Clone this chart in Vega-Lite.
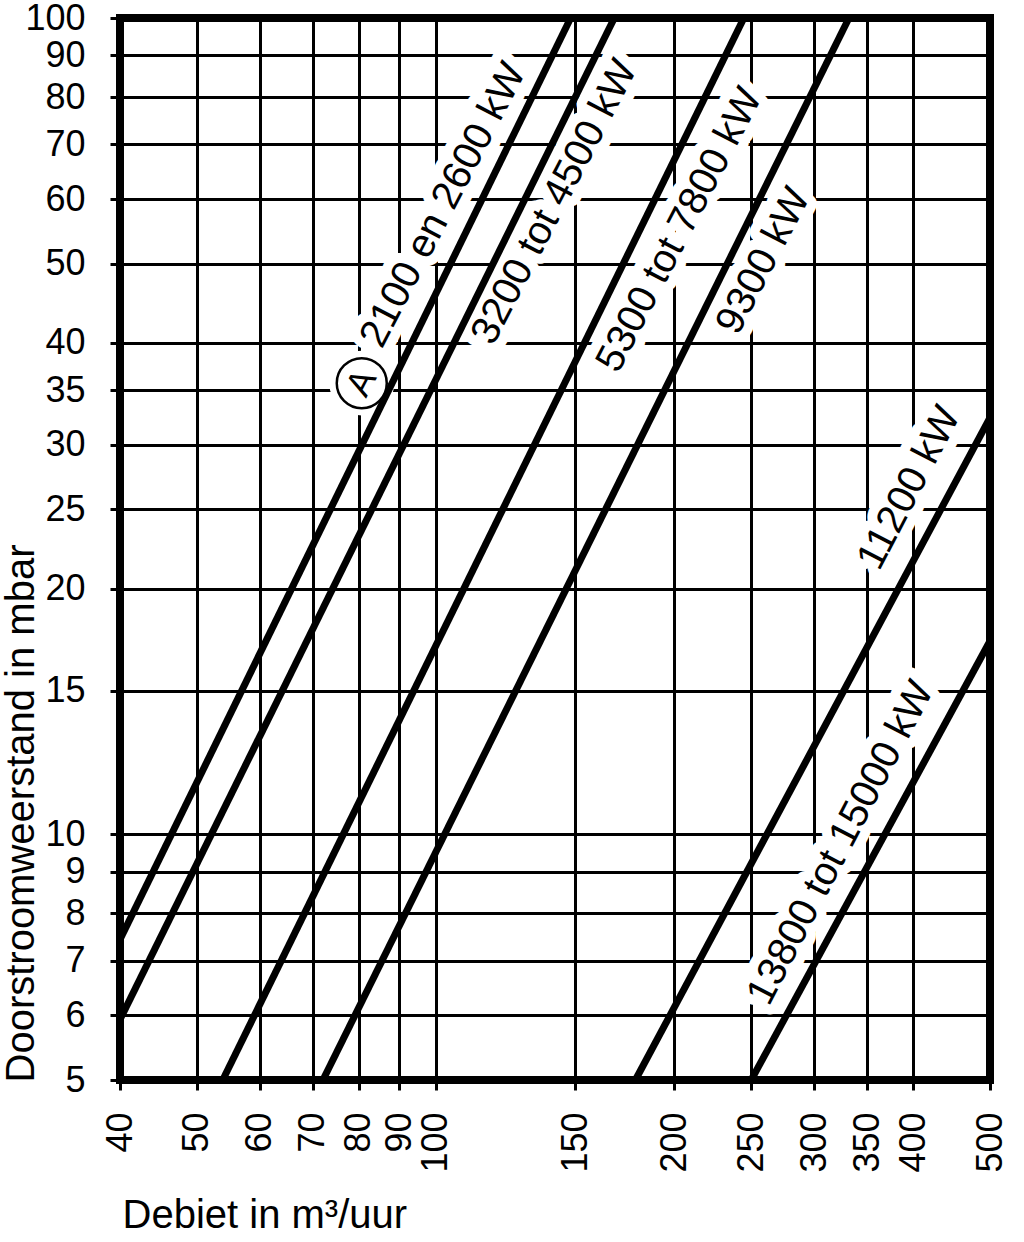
{
  "$schema": "https://vega.github.io/schema/vega-lite/v6.json",
  "width": 870,
  "height": 1062,
  "autosize": {"type": "none"},
  "padding": {"left": 120, "top": 18, "right": 34, "bottom": 162},
  "background": "white",
  "config": {
    "font": "Liberation Sans",
    "view": {"stroke": "black", "strokeWidth": 8},
    "axis": {
      "domain": false,
      "grid": true,
      "gridColor": "black",
      "gridWidth": 3,
      "gridOpacity": 1,
      "ticks": true,
      "tickColor": "black",
      "tickWidth": 3,
      "tickSize": 10,
      "labelColor": "black",
      "labelFontSize": 36,
      "labelOverlap": false,
      "labelFlush": false,
      "labelBound": false,
      "titleColor": "black",
      "titleFontWeight": "normal",
      "titleFontSize": 40
    }
  },
  "datasets": {
    "lines": [
      {"series": "2100 en 2600 kW", "x": 40, "y": 7.43},
      {"series": "2100 en 2600 kW", "x": 148, "y": 100},
      {"series": "3200 tot 4500 kW", "x": 40, "y": 5.93},
      {"series": "3200 tot 4500 kW", "x": 168, "y": 100},
      {"series": "5300 tot 7800 kW", "x": 53.9, "y": 5},
      {"series": "5300 tot 7800 kW", "x": 244.7, "y": 100},
      {"series": "9300 kW", "x": 72.1, "y": 5},
      {"series": "9300 kW", "x": 332, "y": 100},
      {"series": "11200 kW", "x": 178.6, "y": 5},
      {"series": "11200 kW", "x": 500, "y": 32.4},
      {"series": "13800 tot 15000 kW", "x": 250, "y": 5},
      {"series": "13800 tot 15000 kW", "x": 500, "y": 17.25}
    ],
    "labels": [
      {"label": "2100 en 2600 kW", "x": 102.3, "y": 59.0},
      {"label": "3200 tot 4500 kW", "x": 141.3, "y": 59.5},
      {"label": "5300 tot 7800 kW", "x": 203.1, "y": 55.0},
      {"label": "9300 kW", "x": 259.1, "y": 50.4},
      {"label": "11200 kW", "x": 395.6, "y": 26.56},
      {"label": "13800 tot 15000 kW", "x": 324.2, "y": 9.76}
    ],
    "marker": [
      {"label": "A", "x": 80.7, "y": 35.7}
    ]
  },
  "encoding": {
    "x": {
      "field": "x",
      "type": "quantitative",
      "scale": {"type": "log", "domain": [40, 500], "nice": false},
      "axis": {
        "values": [40, 50, 60, 70, 80, 90, 100, 150, 200, 250, 300, 350, 400, 500],
        "labelExpr": "format(datum.value, 'd')",
        "labelAngle": -90,
        "labelPadding": 22,
        "title": "Debiet in m³/uur",
        "titleAnchor": "start",
        "titleAlign": "left",
        "titleBaseline": "middle",
        "titleX": 2,
        "titleY": 135
      }
    },
    "y": {
      "field": "y",
      "type": "quantitative",
      "scale": {"type": "log", "domain": [5, 100], "nice": false},
      "axis": {
        "values": [5, 6, 7, 8, 9, 10, 15, 20, 25, 30, 35, 40, 50, 60, 70, 80, 90, 100],
        "labelExpr": "format(datum.value, 'd')",
        "labelPadding": 25,
        "title": "Doorstroomweerstand in mbar",
        "titleAngle": -90,
        "titleAnchor": "start",
        "titleAlign": "left",
        "titleBaseline": "middle",
        "titleX": -99,
        "titleY": 1064
      }
    }
  },
  "layer": [
    {
      "data": {"name": "labels"},
      "mark": {"type": "text", "fill": "white", "stroke": "white", "strokeWidth": 20, "strokeJoin": "round", "fontSize": 40, "angle": -62.5, "align": "center", "baseline": "middle"},
      "encoding": {"text": {"field": "label"}}
    },
    {
      "data": {"name": "marker"},
      "mark": {"type": "point", "shape": "circle", "filled": true, "fill": "white", "opacity": 1, "strokeWidth": 0, "size": 4200},
      "encoding": {}
    },
    {
      "data": {"name": "lines"},
      "mark": {"type": "line", "color": "black", "strokeWidth": 7},
      "encoding": {"detail": {"field": "series"}}
    },
    {
      "data": {"name": "marker"},
      "mark": {"type": "point", "shape": "circle", "filled": false, "fill": "white", "fillOpacity": 1, "stroke": "black", "strokeWidth": 2.5, "opacity": 1, "size": 2500},
      "encoding": {}
    },
    {
      "data": {"name": "marker"},
      "mark": {"type": "text", "fill": "black", "fontSize": 36, "angle": -62.5, "align": "center", "baseline": "middle"},
      "encoding": {"text": {"field": "label"}}
    },
    {
      "data": {"name": "labels"},
      "mark": {"type": "text", "fill": "black", "fontSize": 40, "angle": -62.5, "align": "center", "baseline": "middle"},
      "encoding": {"text": {"field": "label"}}
    }
  ]
}
